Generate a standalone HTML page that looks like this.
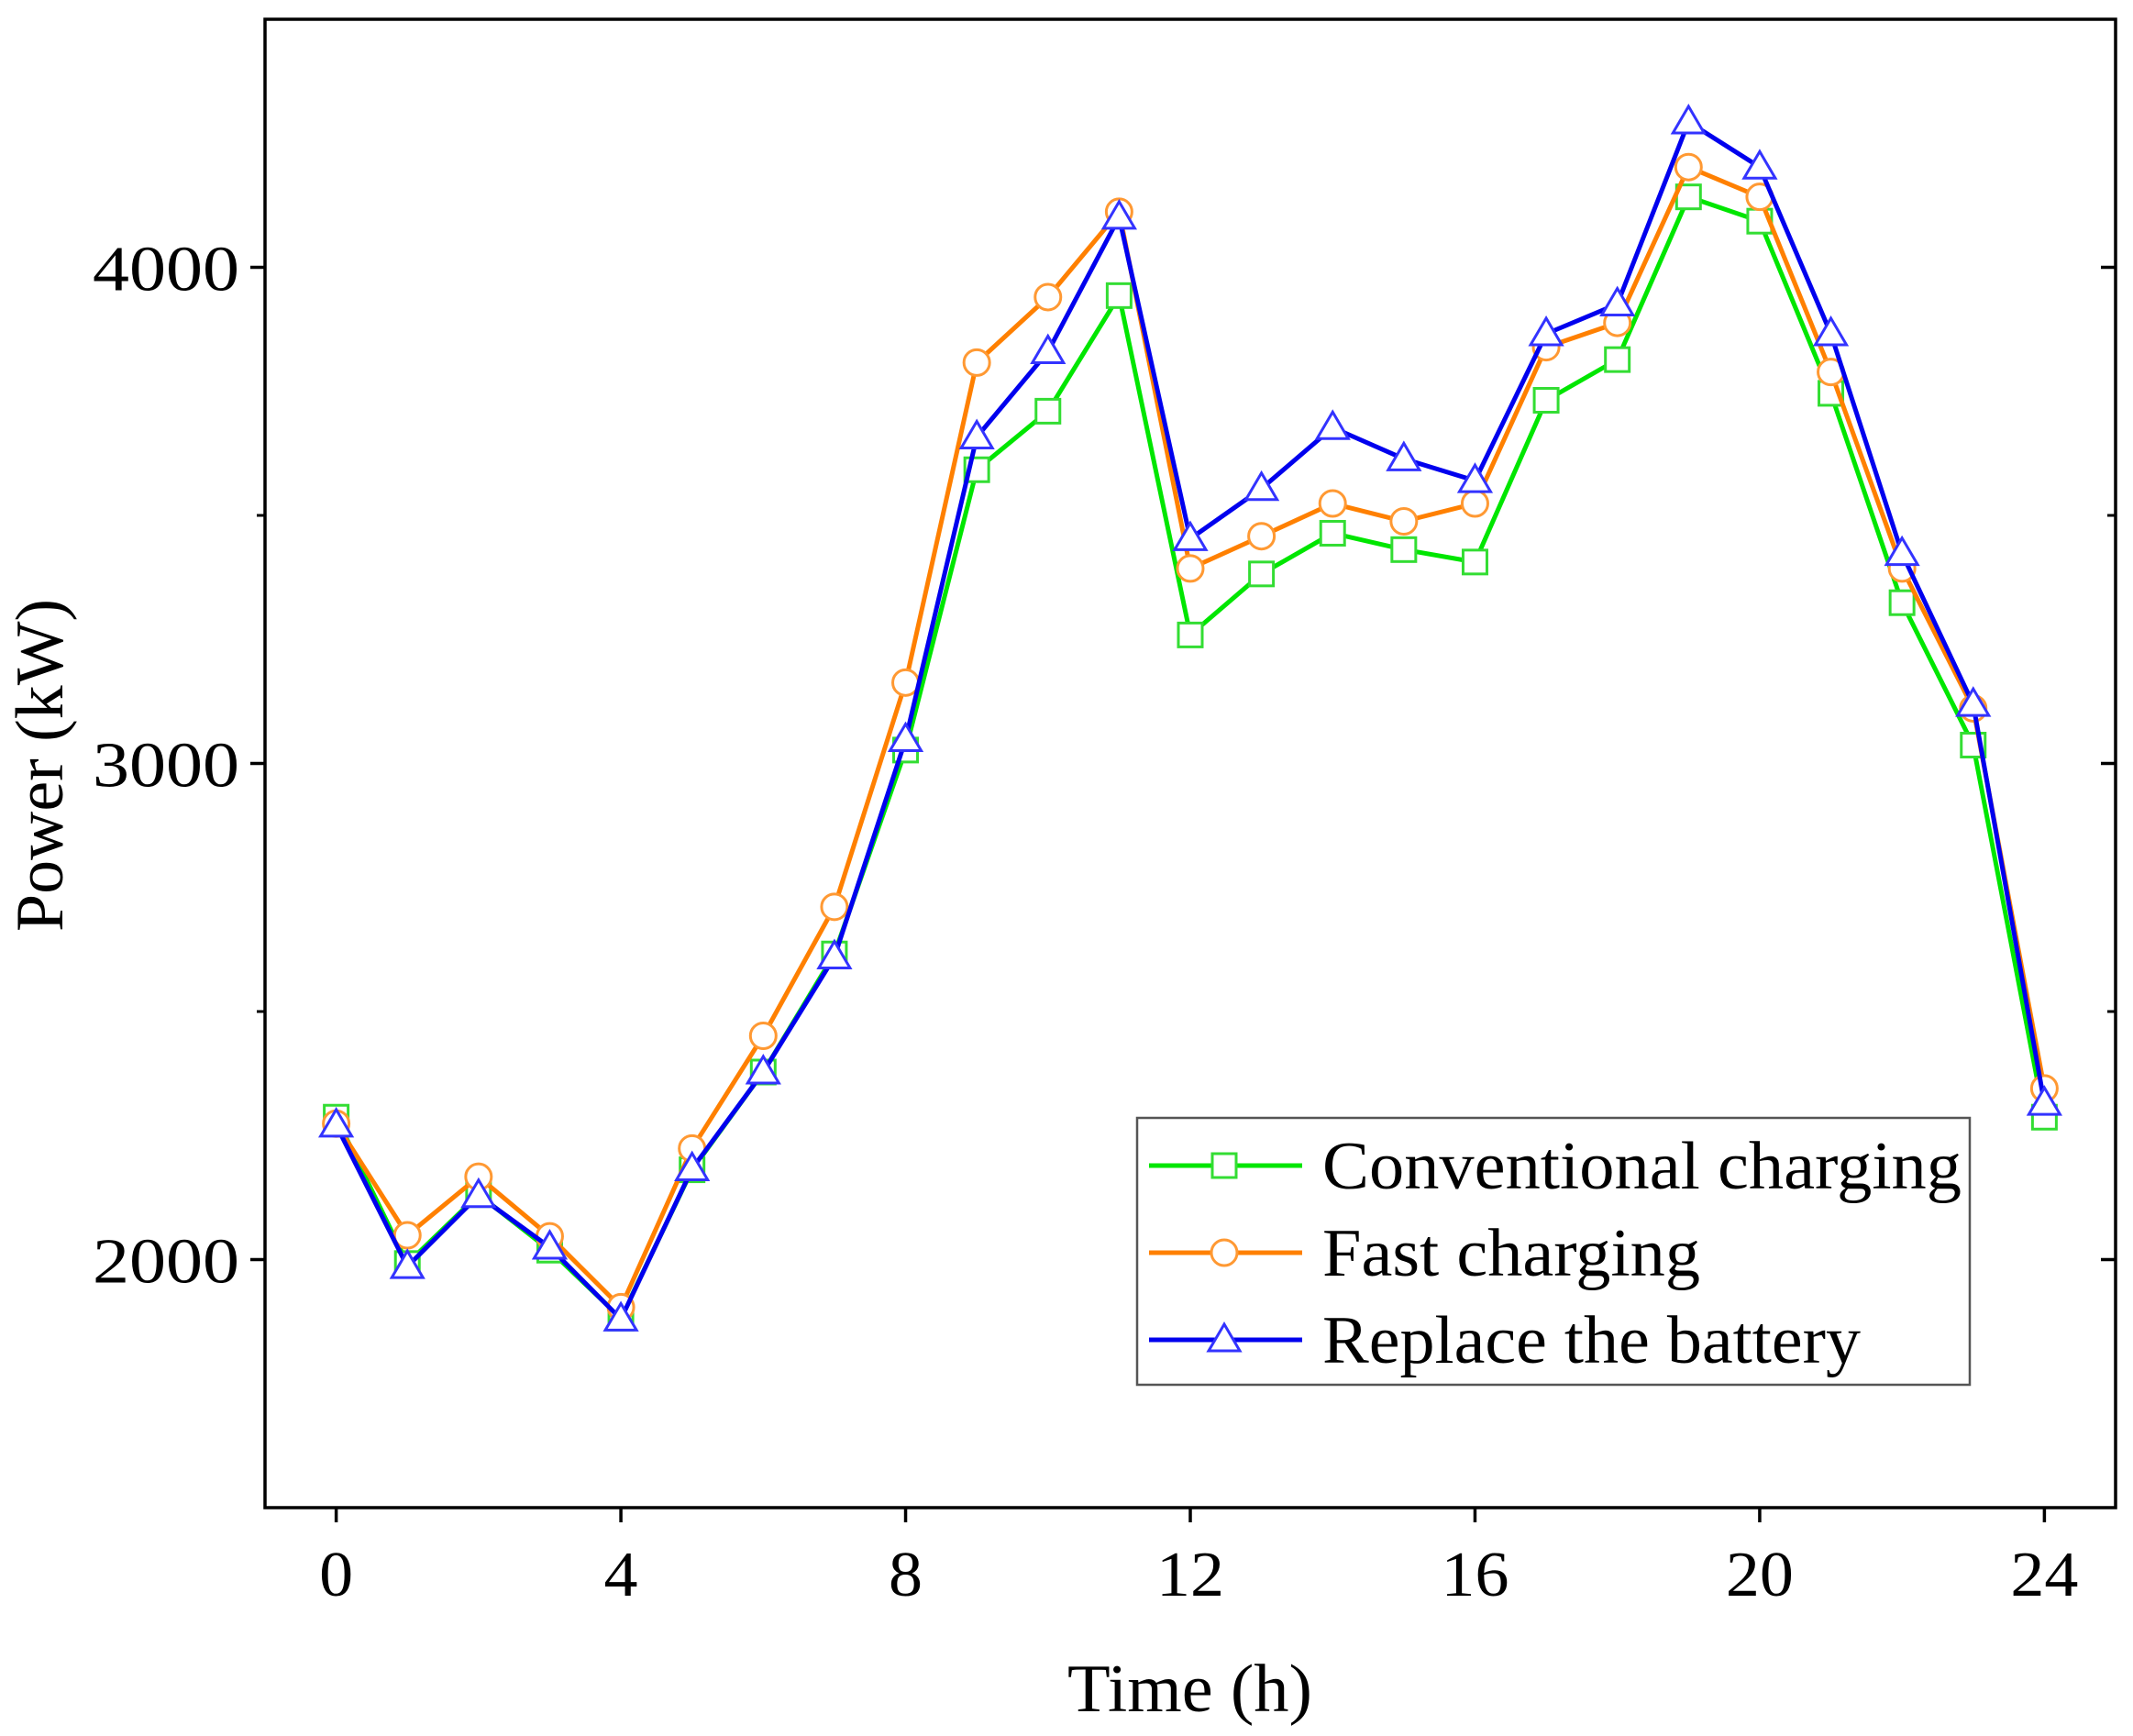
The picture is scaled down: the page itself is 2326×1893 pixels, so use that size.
<!DOCTYPE html>
<html><head><meta charset="utf-8"><style>
html,body{margin:0;padding:0;background:#fff;}
svg{display:block;font-family:"Liberation Serif",serif;}
</style></head><body>
<svg id="chart" width="2326" height="1893" viewBox="0 0 2326 1893" xmlns="http://www.w3.org/2000/svg">
<g id="plot"></g>
</svg>
<script>
const hours = [0,1,2,3,4,5,6,7,8,9,10,11,12,13,14,15,16,17,18,19,20,21,22,23,24];
const conventional = [2287,1992,2131,2019,1882,2181,2378,2616,3027,3592,3710,3943,3259,3382,3464,3431,3406,3732,3814,4142,4093,3746,3324,3037,2287];
const fast = [2274,2049,2167,2047,1904,2224,2451,2711,3163,3808,3940,4112,3393,3458,3524,3488,3524,3839,3888,4202,4142,3789,3393,3111,2345];
const battery = [2271,1986,2129,2025,1880,2183,2378,2610,3048,3658,3830,4101,3453,3554,3677,3614,3570,3866,3926,4293,4202,3866,3423,3119,2315];
const xTicks = [0,4,8,12,16,20,24];
const yTicks = [2000,3000,4000];
const yMinor = [2500,3500];
const seriesNames = ["Conventional charging","Fast charging","Replace the battery"];
const legendWidths = [697,412,587];

const L=289,R=2307,T=21,B=1644;
const xMin=-1,xMax=25,yMin=1500,yMax=4500;
const sx=v=>L+(v-xMin)/(xMax-xMin)*(R-L);
const sy=v=>B-(v-yMin)/(yMax-yMin)*(B-T);
const NS="http://www.w3.org/2000/svg";
const g=document.getElementById('plot');
function mk(tag,attrs,parent){const e=document.createElementNS(NS,tag);for(const k in attrs)e.setAttribute(k,attrs[k]);(parent||g).appendChild(e);return e;}

const frame=mk('rect',{x:L,y:T,width:R-L,height:B-T,fill:'none',stroke:'#000','stroke-width':3.5});



xTicks.forEach(v=>{
  const t=mk('line',{x1:sx(v),x2:sx(v),y1:B,y2:B+16,stroke:'#000','stroke-width':3.5});
  
  
  const s=String(v);
  const lb=mk('text',{x:sx(v),y:1740,'text-anchor':'middle','font-size':70,fill:'#000',textLength:s.length*37,lengthAdjust:'spacingAndGlyphs'});
  lb.textContent=s;
  
  
});
yTicks.forEach(v=>{
  const t=mk('line',{x1:L-16,x2:L,y1:sy(v),y2:sy(v),stroke:'#000','stroke-width':3.5});
  
  
  const t2=mk('line',{x1:R-16,x2:R,y1:sy(v),y2:sy(v),stroke:'#000','stroke-width':3.5});
  
  
  const lb=mk('text',{x:101,y:sy(v)+25,'font-size':70,fill:'#000',textLength:160,lengthAdjust:'spacingAndGlyphs'});
  lb.textContent=v;
  
  
});
yMinor.forEach(v=>{
  const t=mk('line',{x1:L-9,x2:L,y1:sy(v),y2:sy(v),stroke:'#000','stroke-width':3});
  
  
  const t2=mk('line',{x1:R-9,x2:R,y1:sy(v),y2:sy(v),stroke:'#000','stroke-width':3});
  
  
});

const xt=mk('text',{x:1164,y:1866,'font-size':74,fill:'#000',textLength:267,lengthAdjust:'spacingAndGlyphs'});
xt.textContent='Time (h)';


const yt=mk('text',{x:0,y:0,'font-size':74,fill:'#000',textLength:363,lengthAdjust:'spacingAndGlyphs',transform:'translate(68,1016) rotate(-90)'});
yt.textContent='Power (kW)';



function marker(type,x,y,color,parent){
  const s=13;let e;
  if(type==='square') e=mk('rect',{x:x-s,y:y-s,width:2*s,height:2*s,fill:'#fff',stroke:color,'stroke-width':3},parent);
  else if(type==='circle') e=mk('circle',{cx:x,cy:y,r:s+1,fill:'#fff',stroke:color,'stroke-width':3},parent);
  else e=mk('polygon',{points:`${x},${y-17} ${x-17},${y+12} ${x+17},${y+12}`,fill:'#fff',stroke:color,'stroke-width':3},parent);
  return e;
}
const series=[
  {name:'conventional',vals:conventional,line:'#00e600',mk:'#33dd33',type:'square'},
  {name:'fast',vals:fast,line:'#ff8000',mk:'#ff9933',type:'circle'},
  {name:'battery',vals:battery,line:'#0000ee',mk:'#3333ff',type:'triangle'}
];
series.forEach(s=>{
  const grp=mk('g',{});
  
  
  const pts=hours.map((h,i)=>sx(h)+','+sy(s.vals[i])).join(' ');
  const pl=mk('polyline',{points:pts,fill:'none',stroke:s.line,'stroke-width':5,'stroke-linejoin':'round'},grp);
  
  
  hours.forEach((h,i)=>{
    const m=marker(s.type,sx(h),sy(s.vals[i]),s.mk,grp);
    
    
  });
});

const lg=mk('g',{});


mk('rect',{x:1240,y:1219,width:908,height:291,fill:'#fff',stroke:'#555','stroke-width':2.5},lg);
const legY=[1271,1366,1461];
series.forEach((s,i)=>{
  const ln=mk('line',{x1:1253,x2:1420,y1:legY[i],y2:legY[i],stroke:s.line,'stroke-width':5},lg);
  
  
  const m=marker(s.type,1335,legY[i],s.mk,lg);
  
  
  const tx=mk('text',{x:1442,y:legY[i]+25,'font-size':74,fill:'#000',textLength:legendWidths[i],lengthAdjust:'spacingAndGlyphs'},lg);
  tx.textContent=seriesNames[i];
  
  
});
</script>
</body></html>
